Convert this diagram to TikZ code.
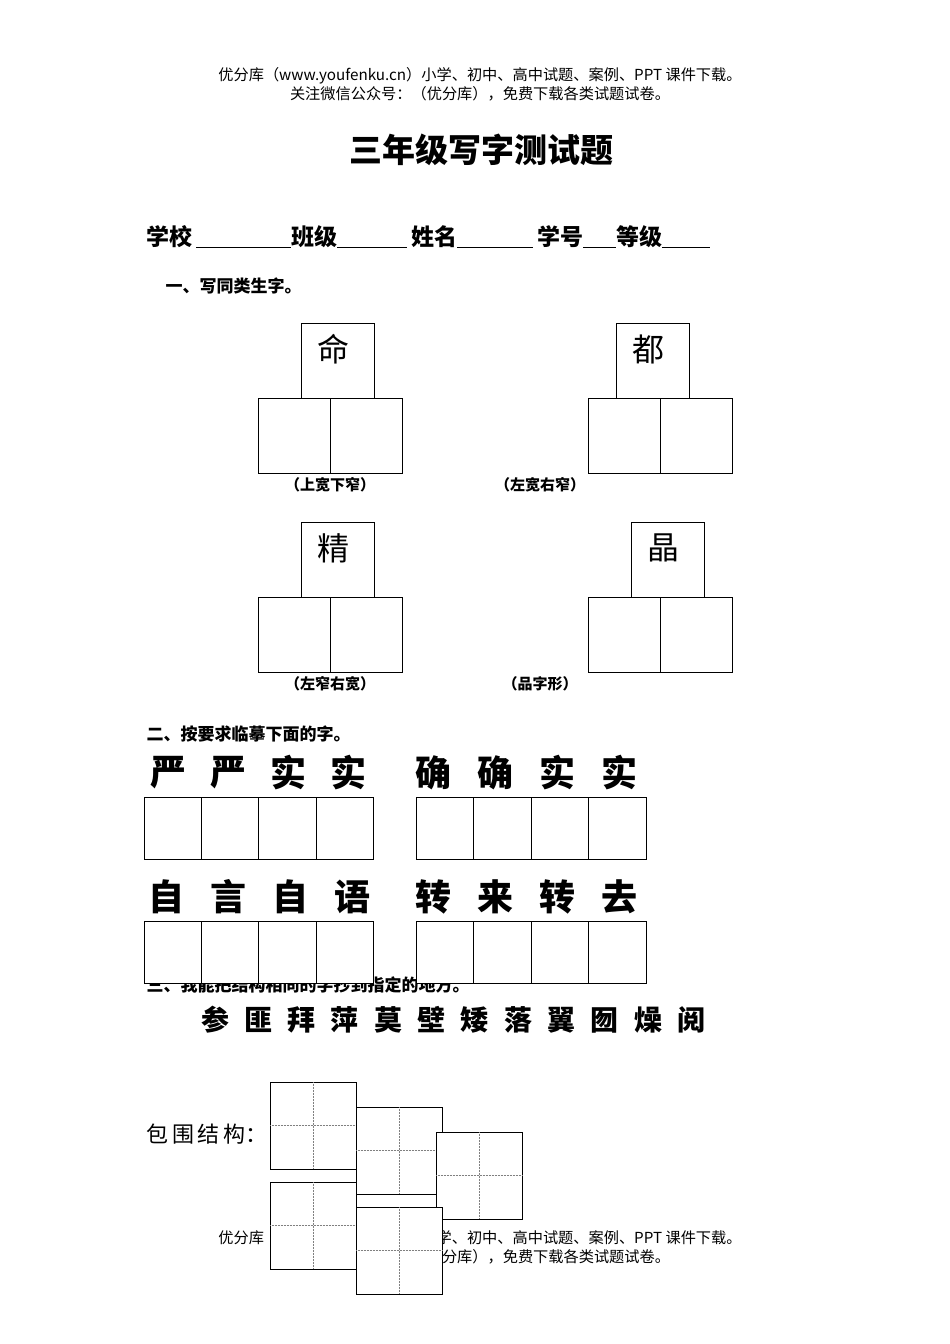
\documentclass[tikz,border=0pt]{standalone}
\usepackage{fontspec}
\setmainfont{Liberation Serif}
\newfontfamily\cjk{Noto Sans CJK SC}
\newcommand{\fs}[1]{\fontsize{#1}{#1}\selectfont}
\begin{document}
\begin{tikzpicture}[x=1pt,y=-1pt,
    cell/.style={draw,fill=white,line width=0.8pt},
    tian/.style={draw=gray,densely dotted,line width=0.5pt},
    big/.style={font=\cjk\bfseries\fs{36}}]
  \useasboundingbox[fill=white] (0,0) rectangle (950,1344);
  % header
  \node[font=\cjk\fs{15.2}] (hd1) at (480,76) {优分库（www.youfenku.cn）小学、初中、高中试题、案例、PPT 课件下载。};
  \node[font=\cjk\fs{15.2}] (hd2) at (480,94) {关注微信公众号：（优分库），免费下载各类试题试卷。};
  \node[font=\cjk\bfseries\fs{33}] (title) at (481,150) {三年级写字测试题};
  \node[font=\cjk\bfseries\fs{23},anchor=west] (info) at (143,237)
    {学校\,\underline{\hspace{95pt}}班级\underline{\hspace{70pt}}\,姓名\underline{\hspace{76pt}}\,学号\underline{\hspace{33pt}}等级\underline{\hspace{48pt}}};
  \node[font=\cjk\bfseries\fs{17},anchor=west] (sec1) at (162,286) {一、写同类生字。};
  % section 1
  \foreach \x/\y/\ch/\cx/\lab/\lx in {301/323/命/258/（上宽下窄）/330, 616/323/都/588/（左宽右窄）/540,
                                      301/522/精/258/（左窄右宽）/330, 631/522/晶/588/（品字形）/540} {
    \draw[cell] (\x,\y) rectangle ++(73,75);
    \node[font=\cjk\fs{32}] at (\x+32,\y+26) {\ch};
    \draw[cell] (\cx,\y+75) rectangle ++(72,75);
    \draw[cell] (\cx+72,\y+75) rectangle ++(72,75);
    \node[font=\cjk\bfseries\fs{15}] at (\lx,\y+162) {\lab};
  }
  % section 2
  \node[font=\cjk\bfseries\fs{17},anchor=west] (sec2) at (143,734) {二、按要求临摹下面的字。};
  \node[font=\cjk\bfseries\fs{17},anchor=west] (sec3) at (143,985) {三、我能把结构相同的字抄到指定的地方。};
  \foreach \ch [count=\i] in {严,严,实,实} \node[big] at (168+60*\i-60,773) {\ch};
  \foreach \ch [count=\i] in {确,确,实,实} \node[big] at (433+62*\i-62,773) {\ch};
  \foreach \ch [count=\i] in {自,言,自,语} \node[big] at (166+62*\i-62,897) {\ch};
  \foreach \ch [count=\i] in {转,来,转,去} \node[big] at (433+62*\i-62,897) {\ch};
  \foreach \y in {797,921} {
    \foreach \i in {0,...,3} {
      \draw[cell] (144+57.3*\i,\y) rectangle ++(57.3,62);
      \draw[cell] (416+57.5*\i,\y) rectangle ++(57.5,62);
    }
  }
  % section 3
  \foreach \ch [count=\i] in {参,匪,拜,萍,莫,壁,矮,落,翼,囫,燥,阅}
    \node[font=\cjk\bfseries\fs{28}] at (215+43.3*\i-43.3,1020) {\ch};
  \node[font=\cjk\fs{22},anchor=west] (bao) at (143,1134) {包\,围\,结\,构：};
  \node[font=\cjk\fs{15.2}] (ft1) at (480,1239) {优分库（www.youfenku.cn）小学、初中、高中试题、案例、PPT 课件下载。};
  \node[font=\cjk\fs{15.2}] (ft2) at (480,1257) {关注微信公众号：（优分库），免费下载各类试题试卷。};
  \foreach \x/\y in {270/1082, 356/1107, 436/1132, 270/1182, 356/1207} {
    \draw[cell,line width=0.6pt] (\x,\y) rectangle ++(86,87);
    \draw[tian] (\x+43,\y) -- (\x+43,\y+87) (\x,\y+43.5) -- (\x+86,\y+43.5);
  }
\end{tikzpicture}
\end{document}
